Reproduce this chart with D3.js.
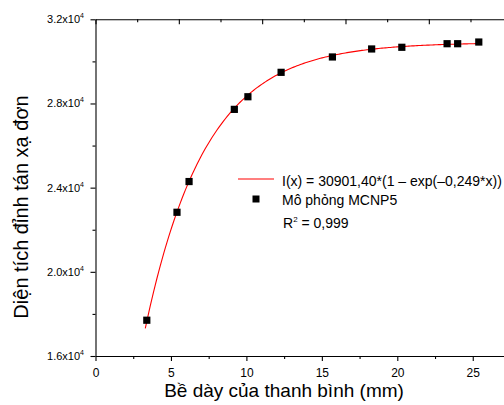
<!DOCTYPE html>
<html>
<head>
<meta charset="utf-8">
<script src="https://cdn.jsdelivr.net/npm/d3@7"></script>
<style>
    body { margin: 0; background: #fff; }
    svg { display: block; font-family: "Liberation Sans", Arial, sans-serif; }
</style>
</head>
<body>
<div id="fitChart"></div>
<script>
//Simulated peak area against thickness
const thicknessMm = [3.4, 5.4, 6.2, 9.2, 10.1, 12.3, 15.7, 18.3, 20.3, 23.3, 24.0, 25.4];
const peakArea = [17700, 22830, 24290, 27720, 28320, 29480, 30210, 30590, 30670, 30840, 30840, 30920];

//Fit shown in the legend: I(x) = A*(1 - exp(-k*x))
const fitAmplitude = 30901.40;
const fitRate = 0.249;
const fitRange = [3.3, 25.4];

//Tick values and labels
const xMajorTicks = [0, 5, 10, 15, 20, 25];
const xMinorTicks = [2.5, 7.5, 12.5, 17.5, 22.5];
const yMajorTicks = [16000, 20000, 24000, 28000, 32000];
const yMinorTicks = [18000, 22000, 26000, 30000];
const yTickMantissa = ["1.6", "2.0", "2.4", "2.8", "3.2"];
const yTickExponent = "4";

//Text
const xTitle = "Bề dày của thanh bình (mm)";
const yTitle = "Diện tích đỉnh tán xạ đơn";
const fitLegend = "I(x) = 30901,40*(1 – exp(–0,249*x))";
const pointLegend = "Mô phỏng MCNP5";
const rSquared = "0,999";

class FitChart
{
    constructor()
    {
        //Plot bounds in pixels
        this.dimensions = {top: 19.3, bottom: 356, left: 95.5};
        this.svg = d3.select("#fitChart").append("svg")
            .attr("width", 504)
            .attr("height", 405);
    }

    plot()
    {
        let svg = this.svg;
        let dim = this.dimensions;

        //Bottom axis runs past the right edge, like the original
        let xScale = d3.scaleLinear().domain([0, 27.5]).range([dim.left, dim.left + 27.5 * 15.09]);
        let yScale = d3.scaleLinear().domain([16000, 32000]).range([dim.bottom, dim.top]);
        //Top axis has its own spacing
        let topScale = d3.scaleLinear().domain([0, 5]).range([dim.left, dim.left + 5 * 83.33]);

        //Fit curve
        let curvePoints = d3.range(0, 201).map((i) => {
            let x = fitRange[0] + (fitRange[1] - fitRange[0]) * i / 200;
            return [x, fitAmplitude * (1 - Math.exp(-fitRate * x))];
        });
        let line = d3.line()
            .x((d) => xScale(d[0]))
            .y((d) => yScale(d[1]));
        svg.append("path")
            .datum(curvePoints)
            .attr("fill", "none")
            .attr("stroke", "#ff0000")
            .attr("stroke-width", 1.1)
            .attr("d", line);

        //Bottom axis, majors and minors
        let bottom = svg.append("g").attr("transform", "translate(0," + dim.bottom + ")");
        bottom.call(d3.axisBottom(xScale).tickValues(xMajorTicks).tickSize(5).tickSizeOuter(0).tickPadding(7));
        bottom.append("g").call(d3.axisBottom(xScale).tickValues(xMinorTicks).tickSize(3).tickFormat(""))
            .select(".domain").remove();
        bottom.selectAll("text").attr("font-size", 12).attr("font-family", null).attr("fill", "#000");

        //Left axis
        let left = svg.append("g").attr("transform", "translate(" + dim.left + ",0)");
        left.call(d3.axisLeft(yScale).tickValues(yMajorTicks).tickSize(5).tickSizeOuter(0).tickFormat(""));
        left.append("g").call(d3.axisLeft(yScale).tickValues(yMinorTicks).tickSize(3).tickFormat(""))
            .select(".domain").remove();

        //Y tick labels with superscript exponent
        yMajorTicks.forEach((v, i) => {
            let t = left.append("text")
                .attr("x", -11.5)
                .attr("y", yScale(v) + 4)
                .attr("text-anchor", "end")
                .attr("font-size", 11)
                .attr("fill", "#000");
            t.append("tspan").text(yTickMantissa[i] + "x10");
            t.append("tspan").attr("font-size", 7).attr("dy", -5).text(yTickExponent);
        });

        //Top axis, ticks point inward
        let top = svg.append("g").attr("transform", "translate(0," + dim.top + ")");
        top.call(d3.axisBottom(topScale).ticks(5).tickSize(5).tickSizeOuter(0).tickFormat(""));
        top.append("g").call(d3.axisBottom(topScale).tickValues([0.5, 1.5, 2.5, 3.5, 4.5]).tickSize(3).tickFormat(""))
            .select(".domain").remove();

        svg.selectAll(".domain, .tick line").attr("stroke", "#000").attr("stroke-width", 1.1);

        //Data points as black squares
        svg.append("g").selectAll("rect")
            .data(thicknessMm)
            .enter().append("rect")
            .attr("x", (d) => xScale(d) - 3.6)
            .attr("y", (d, i) => yScale(peakArea[i]) - 3.6)
            .attr("width", 7.2)
            .attr("height", 7.2)
            .attr("fill", "#000");

        //Axis titles
        svg.append("text")
            .attr("x", 284)
            .attr("y", 397)
            .attr("text-anchor", "middle")
            .attr("font-size", 19)
            .attr("fill", "#000")
            .text(xTitle);

        svg.append("text")
            .attr("transform", "translate(28,207) rotate(-90)")
            .attr("text-anchor", "middle")
            .attr("font-size", 20)
            .attr("fill", "#000")
            .text(yTitle);

        //Legend
        let legend = svg.append("g");
        legend.append("line")
            .attr("x1", 238).attr("x2", 274)
            .attr("y1", 179).attr("y2", 179)
            .attr("stroke", "#ff0000")
            .attr("stroke-width", 1.1);
        legend.append("text")
            .attr("x", 282).attr("y", 185.5)
            .attr("font-size", 14)
            .attr("fill", "#000")
            .text(fitLegend);
        legend.append("rect")
            .attr("x", 252.5).attr("y", 195.5)
            .attr("width", 7).attr("height", 7)
            .attr("fill", "#000");
        legend.append("text")
            .attr("x", 282).attr("y", 205)
            .attr("font-size", 14)
            .attr("fill", "#000")
            .text(pointLegend);
        let r2 = legend.append("text")
            .attr("x", 283).attr("y", 227.5)
            .attr("font-size", 14)
            .attr("fill", "#000");
        r2.append("tspan").text("R");
        r2.append("tspan").attr("font-size", 8).attr("dy", -6).text("2");
        r2.append("tspan").attr("dy", 6).text(" = " + rSquared);
    }
}

let chart = new FitChart();
chart.plot();
</script>
</body>
</html>
